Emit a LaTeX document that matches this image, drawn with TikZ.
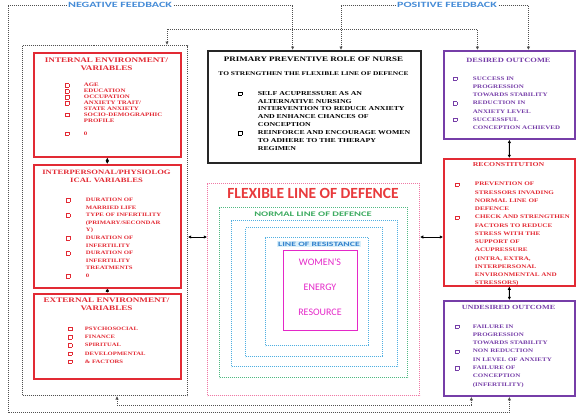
\documentclass[tikz,border=0pt]{standalone}
\usepackage{fontspec}
\setmainfont{Liberation Serif}
\newfontfamily\boxfont[UprightFont={* Bold},FakeStretch=1.3]{Liberation Serif}
\newfontfamily\ringfont{Carlito}
\newfontfamily\wideringfont[FakeStretch=1.5]{Carlito}
\usetikzlibrary{arrows.meta,positioning}

\definecolor{boxred}{RGB}{226,42,52}
\definecolor{boxpurple}{RGB}{118,62,168}
\definecolor{loopgray}{RGB}{80,80,80}
\definecolor{ringpink}{RGB}{240,120,165}
\definecolor{ringgreen}{RGB}{80,185,130}
\definecolor{ringblue}{RGB}{80,175,225}
\definecolor{coremagenta}{RGB}{228,40,200}
\definecolor{titlered}{RGB}{232,58,60}
\definecolor{textgreen}{RGB}{60,170,95}
\definecolor{textblue}{RGB}{50,130,205}
\definecolor{resfill}{RGB}{218,240,250}
\definecolor{fbblue}{RGB}{70,140,215}

\newcommand{\fs}[2]{\fontsize{#1}{#2}\selectfont}
\newcommand{\mk}{{\setlength{\fboxsep}{0pt}\setlength{\fboxrule}{0.35pt}\fbox{\rule{3pt}{0pt}\rule{0pt}{3pt}}}}

\begin{document}
\begin{tikzpicture}[x=1pt,y=-1pt,
  panel/.style={draw, anchor=north west, inner sep=0pt},
  redpanel/.style={panel, draw=boxred, line width=1.6pt},
  purplepanel/.style={panel, draw=boxpurple, line width=1.8pt},
  ring/.style={panel, line width=1.1pt, dash pattern=on 0.9pt off 1.1pt},
  loopline/.style={draw=loopgray, line width=1pt, dash pattern=on 1pt off 1pt,
    {Latex[length=3.5pt,width=3.5pt]}-{Latex[length=3.5pt,width=3.5pt]}},
  linkarrow/.style={line width=1pt,
    {Latex[length=3.2pt,width=3.5pt]}-{Latex[length=3.2pt,width=3.5pt]}},
  headtext/.style={anchor=north, align=center, inner sep=0pt},
  listtext/.style={anchor=north west, inner sep=0pt},
  fblabel/.style={fill=white, inner sep=1.5pt, text=fbblue,
    font=\wideringfont\bfseries\fs{8}{8}}
]
\useasboundingbox (0,0) rectangle (577,415);

% Left group of variables
\node[panel, draw=loopgray, line width=1pt, dash pattern=on 1pt off 1pt,
  minimum width=165pt, minimum height=350pt] (leftgrp) at (22,45) {};
\node[redpanel, minimum width=147pt, minimum height=104pt] (intvar) at (33,52) {};
\node[redpanel, minimum width=147pt, minimum height=123pt] (intpers) at (33,164) {};
\node[redpanel, minimum width=147pt, minimum height=85pt] (extvar) at (33,293) {};

\node[headtext, text=boxred, font=\boxfont\fs{7}{8}] (intvarhead)
  at (106.5,58) {INTERNAL ENVIRONMENT/\\VARIABLES};
\node[listtext, text=boxred, font=\boxfont\fs{5.3}{5.9}] (intvarlist)
  at (65,82.5) {\begin{tabular}{@{}l@{\hspace{15pt}}l@{}}
  \mk & AGE\\
  \mk & EDUCATION\\
  \mk & OCCUPATION\\
  \mk & ANXIETY TRAIT/\\
      & STATE ANXIETY\\
  \mk & SOCIO-DEMOGRAPHIC\\
      & PROFILE\\[7pt]
  \mk & 0
  \end{tabular}};

\node[headtext, text=boxred, font=\boxfont\fs{6.6}{7.5}] (intpershead)
  at (106.5,170) {INTERPERSONAL/PHYSIOLOG\\ICAL VARIABLES};
\node[listtext, text=boxred, font=\boxfont\fs{5.2}{7.6}] (intperslist)
  at (66,196) {\begin{tabular}{@{}l@{\hspace{16pt}}l@{}}
  \mk & DURATION OF\\
      & MARRIED LIFE\\
  \mk & TYPE OF INFERTILITY\\
      & (PRIMARY/SECONDAR\\
      & Y)\\
  \mk & DURATION OF\\
      & INFERTILITY\\
  \mk & DURATION OF\\
      & INFERTILITY\\
      & TREATMENTS\\
  \mk & 0
  \end{tabular}};

\node[headtext, text=boxred, font=\boxfont\fs{7}{8.5}] (extvarhead)
  at (106.5,297.5) {EXTERNAL ENVIRONMENT/\\VARIABLES};
\node[listtext, text=boxred, font=\boxfont\fs{5.1}{8.2}] (extvarlist)
  at (68,324.5) {\begin{tabular}{@{}l@{\hspace{13pt}}l@{}}
  \mk & PSYCHOSOCIAL\\
  \mk & FINANCE\\
  \mk & SPIRITUAL\\
  \mk & DEVELOPMENTAL\\
  \mk & \& FACTORS
  \end{tabular}};

% Primary prevention
\node[panel, draw=black!85, line width=2.2pt, minimum width=213pt,
  minimum height=112pt] (prim) at (207,50) {};
\node[headtext, font=\boxfont\fs{6.9}{7}] (primhead)
  at (313.5,56.5) {PRIMARY PREVENTIVE ROLE OF NURSE};
\node[headtext, font=\boxfont\fs{5.7}{6}] (primsub)
  at (313.5,72) {TO STRENGTHEN THE FLEXIBLE LINE OF DEFENCE};
\node[listtext, font=\boxfont\fs{6}{7.86}] (primlist)
  at (238,89.5) {\begin{tabular}{@{}l@{\hspace{16pt}}l@{}}
  \mk & SELF ACUPRESSURE AS AN\\
      & ALTERNATIVE NURSING\\
      & INTERVENTION TO REDUCE ANXIETY\\
      & AND ENHANCE CHANCES OF\\
      & CONCEPTION\\
  \mk & REINFORCE AND ENCOURAGE WOMEN\\
      & TO ADHERE TO THE THERAPY\\
      & REGIMEN
  \end{tabular}};

% Lines of defence
\node[ring, draw=ringpink, minimum width=212pt, minimum height=212pt] (flexline) at (207,183) {};
\node[ring, draw=ringgreen, minimum width=188pt, minimum height=170pt] (normline) at (219,207) {};
\node[ring, draw=ringblue, minimum width=166pt, minimum height=146pt] (resone) at (231,220) {};
\node[ring, draw=ringblue, minimum width=137pt, minimum height=129pt] (restwo) at (245,227) {};
\node[ring, draw=ringblue, minimum width=103pt, minimum height=108pt] (resthree) at (265,237) {};
\node[panel, draw=coremagenta, line width=1.2pt, minimum width=74pt,
  minimum height=80pt] (core) at (283,250) {};

\node[inner sep=0pt, text=titlered, font=\ringfont\bfseries\fs{15.5}{16}] (flextitle)
  at (313,193) {FLEXIBLE LINE OF DEFENCE};
\node[inner sep=0pt, text=textgreen, font=\wideringfont\bfseries\fs{7}{7}] (normtitle)
  at (313,214.5) {NORMAL LINE OF DEFENCE};
\node[inner sep=0.8pt, fill=resfill, text=textblue, font=\wideringfont\bfseries\fs{6.5}{7}] (restitle)
  at (319,244) {LINE OF RESISTANCE};
\node[align=center, inner sep=0pt, text=coremagenta, font=\ringfont\fs{10}{25}] (coretext)
  at (320,287) {WOMEN'S\\ENERGY\\RESOURCE};

% Outcomes
\node[purplepanel, minimum width=131pt, minimum height=88pt] (desired) at (443,50) {};
\node[redpanel, minimum width=131pt, minimum height=127pt] (recon) at (443,158) {};
\node[purplepanel, minimum width=131pt, minimum height=95pt] (undesired) at (443,300) {};

\node[headtext, text=boxpurple, font=\boxfont\fs{6.5}{7}] (desiredhead)
  at (508.5,58) {DESIRED OUTCOME};
\node[listtext, text=boxpurple, font=\boxfont\fs{5.4}{8.2}] (desiredlist)
  at (453,74.3) {\begin{tabular}{@{}l@{\hspace{16pt}}l@{}}
  \mk & SUCCESS IN\\
      & PROGRESSION\\
      & TOWARDS STABILITY\\
  \mk & REDUCTION IN\\
      & ANXIETY LEVEL\\
  \mk & SUCCESSFUL\\
      & CONCEPTION ACHIEVED
  \end{tabular}};

\node[headtext, text=boxred, font=\boxfont\fs{6}{7}] (reconhead)
  at (508.5,162) {RECONSTITUTION};
\node[listtext, text=boxred, font=\boxfont\fs{5.5}{8.25}] (reconlist)
  at (455,180) {\begin{tabular}{@{}l@{\hspace{16pt}}l@{}}
  \mk & PREVENTION OF\\
      & STRESSORS INVADING\\
      & NORMAL LINE OF\\
      & DEFENCE\\
  \mk & CHECK AND STRENGTHEN\\
      & FACTORS TO REDUCE\\
      & STRESS WITH THE\\
      & SUPPORT OF\\
      & ACUPRESSURE\\
      & (INTRA, EXTRA,\\
      & INTERPERSONAL\\
      & ENVIRONMENTAL AND\\
      & STRESSORS)
  \end{tabular}};

\node[headtext, text=boxpurple, font=\boxfont\fs{6.3}{7}] (undesiredhead)
  at (508.5,305) {UNDESIRED OUTCOME};
\node[listtext, text=boxpurple, font=\boxfont\fs{5.4}{8.3}] (undesiredlist)
  at (455,322) {\begin{tabular}{@{}l@{\hspace{14pt}}l@{}}
  \mk & FAILURE IN\\
      & PROGRESSION\\
      & TOWARDS STABILITY\\
  \mk & NON REDUCTION\\
      & IN LEVEL OF ANXIETY\\
  \mk & FAILURE OF\\
      & CONCEPTION\\
      & (INFERTILITY)
  \end{tabular}};

% Links
\draw[linkarrow] (intvar.south) -- (intpers.north);
\draw[linkarrow] (intpers.south) -- (extvar.north);
\draw[linkarrow] (desired.south) -- (recon.north);
\draw[linkarrow] (recon.south) -- (undesired.north);
\coordinate (midrow) at (0,237);
\draw[linkarrow] (leftgrp.east |- midrow) -- (flexline.west |- midrow);
\draw[linkarrow] (flexline.east |- midrow) -- (recon.west |- midrow);

% Feedback loops
\coordinate (negcorner) at (8,5);
\coordinate (posturn) at (341,5);
\draw[loopline] (undesired.south) -- ++(0,16) -| (negcorner) -| ([xshift=-22pt]prim.north);
\draw[loopline] ([xshift=19pt]desired.north) |- (posturn) -- (posturn |- prim.north);
\draw[loopline] ([xshift=62pt]leftgrp.north) -- ++(0,-16) -| ([xshift=-32pt]desired.north);
\draw[loopline] ([xshift=12pt]leftgrp.south) -- ++(0,9) -| ([xshift=-38pt]undesired.south);
\node[fblabel] (negfb) at (120,5) {NEGATIVE FEEDBACK};
\node[fblabel] (posfb) at (447,5) {POSITIVE FEEDBACK};
\end{tikzpicture}
\end{document}
